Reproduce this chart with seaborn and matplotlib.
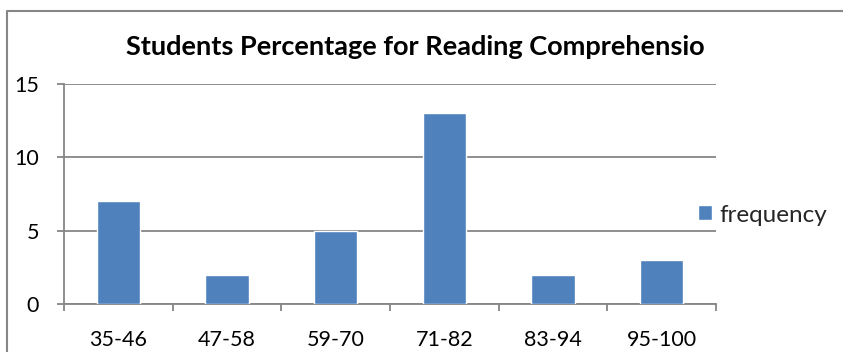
import matplotlib
matplotlib.use("Agg")
import matplotlib.pyplot as plt
from matplotlib.lines import Line2D
from matplotlib.ticker import FixedLocator
import seaborn as sns
import pandas as pd

categories = ["35-46", "47-58", "59-70", "71-82", "83-94", "95-100"]
frequency = [7, 2, 5, 13, 2, 3]
y_ticks = [0, 5, 10, 15]
title = "Students Percentage for Reading Comprehensio"
series_name = "frequency"

df = pd.DataFrame({"range": categories, "frequency": frequency})

sns.set_theme(style="white")
plt.rcParams["font.family"] = ["Lato", "DejaVu Sans"]

W, H = 843, 352
fig = plt.figure(figsize=(W / 100, H / 100), dpi=100)
ax_left, ax_right, ax_top, ax_bottom = 64, 716, 84, 304
ax = fig.add_axes([ax_left / W, 1 - ax_bottom / H,
                   (ax_right - ax_left) / W, (ax_bottom - ax_top) / H])

bar_color = "#4F81BD"
axis_color = "#868686"

sns.barplot(data=df, x="range", y="frequency", color=bar_color, width=0.4,
            saturation=1, ax=ax, label=series_name, zorder=3)

ax.set_xlim(-0.5, len(categories) - 0.5)
ax.set_ylim(0, 15)
ax.set_yticks(y_ticks)
ax.set_xlabel("")
ax.set_ylabel("")

# horizontal gridlines
ax.yaxis.grid(True, color=axis_color, linewidth=1.3, zorder=0)
ax.xaxis.grid(False)

for side in ["top", "right"]:
    ax.spines[side].set_visible(False)
for side in ["left", "bottom"]:
    ax.spines[side].set_color(axis_color)
    ax.spines[side].set_linewidth(1.3)

# category boundary tick marks on the x axis
ax.xaxis.set_minor_locator(FixedLocator([i - 0.5 for i in range(len(categories) + 1)]))
ax.tick_params(axis="x", which="major", length=0, pad=19, labelsize=15.5, labelcolor="black")
ax.tick_params(axis="x", which="minor", bottom=True, length=5, width=1.3, color=axis_color)
ax.tick_params(axis="y", which="major", left=True, length=5, width=1.3, color=axis_color,
               pad=13, labelsize=15.5, labelcolor="black")

fig.text(415 / W, 1 - 47 / H, title, ha="center", va="center",
         fontsize=19.5, fontweight="bold", color="black")

pw = ax_right - ax_left
ph = ax_bottom - ax_top
leg = ax.legend(loc="center left",
                bbox_to_anchor=((698 - ax_left) / pw, (ax_bottom - 215) / ph),
                frameon=False, fontsize=17.5, handlelength=0.58, handleheight=0.58,
                handletextpad=0.3, borderaxespad=0.0, borderpad=0.0)

# outer chart frame: top and left edges (the rest runs off the figure)
fx, fy = 7 / W, 1 - 11 / H
fig.add_artist(Line2D([fx, fx, 1.0], [0.0, fy, fy], transform=fig.transFigure,
                      color=axis_color, linewidth=1.5))

fig.savefig("out.png", dpi=100)
